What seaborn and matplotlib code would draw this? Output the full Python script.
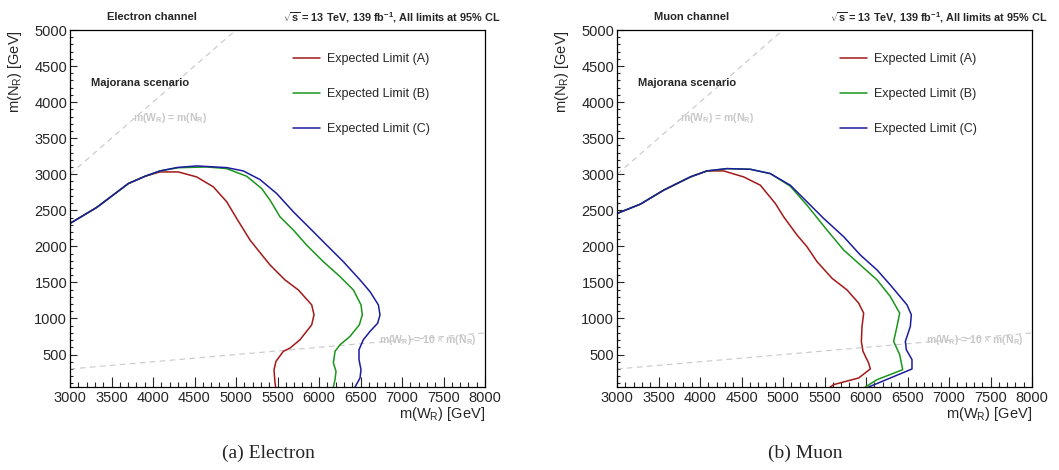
import matplotlib
matplotlib.use("Agg")
import matplotlib.pyplot as plt
import seaborn as sns
import pandas as pd
from matplotlib.ticker import MultipleLocator

# ---------------- data ----------------
channels = ["Electron channel", "Muon channel"]
captions = ["(a) Electron", "(b) Muon"]
limit_labels = ["Expected Limit (A)", "Expected Limit (B)", "Expected Limit (C)"]
limit_colors = ["#a31818", "#1a961a", "#1c1c9e"]

# Electron channel
el_A_x = [3000, 3321, 3703, 3904, 4084, 4305, 4526, 4727, 4888, 5008, 5169, 5249, 5410, 5590, 5751, 5912, 5940, 5912, 5771, 5651, 5570, 5482, 5458, 5470, 5478]
el_A_y = [2318, 2539, 2871, 2972, 3032, 3032, 2963, 2825, 2618, 2387, 2088, 1972, 1742, 1535, 1396, 1189, 1051, 912, 705, 590, 544, 406, 290, 106, 50]
el_B_x = [3000, 3321, 3703, 3904, 4084, 4300, 4647, 4888, 5129, 5309, 5410, 5530, 5691, 5851, 6052, 6253, 6414, 6506, 6522, 6486, 6373, 6253, 6193, 6173, 6205, 6193, 6173]
el_B_y = [2318, 2539, 2871, 2972, 3046, 3090, 3101, 3078, 2972, 2802, 2641, 2410, 2226, 2018, 1788, 1581, 1396, 1189, 1051, 912, 751, 636, 544, 382, 267, 152, 50]
el_C_x = [3000, 3321, 3703, 3904, 4084, 4300, 4526, 4888, 5088, 5289, 5490, 5691, 5892, 6092, 6293, 6494, 6614, 6715, 6735, 6707, 6614, 6534, 6482, 6482, 6506, 6494, 6434]
el_C_y = [2318, 2539, 2871, 2972, 3046, 3095, 3115, 3092, 3046, 2926, 2733, 2479, 2249, 2018, 1788, 1535, 1373, 1189, 1051, 935, 820, 705, 567, 429, 290, 175, 50]

# Muon channel
mu_A_x = [3000, 3281, 3562, 3884, 4084, 4285, 4526, 4727, 4908, 5008, 5169, 5289, 5410, 5590, 5771, 5912, 5972, 5952, 5944, 5964, 6032, 6052, 5912, 5610, 5570]
mu_A_y = [2456, 2585, 2779, 2963, 3046, 3046, 2963, 2848, 2594, 2410, 2157, 1995, 1788, 1558, 1396, 1212, 1074, 889, 682, 544, 382, 300, 175, 83, 50]
mu_B_x = [3000, 3281, 3562, 3884, 4084, 4325, 4606, 4847, 5088, 5289, 5530, 5731, 5932, 6133, 6293, 6406, 6373, 6333, 6406, 6442, 6133, 5992]
mu_B_y = [2456, 2585, 2779, 2963, 3046, 3078, 3069, 3009, 2834, 2571, 2226, 1949, 1742, 1535, 1304, 1074, 889, 682, 498, 290, 152, 50]
mu_C_x = [3000, 3281, 3562, 3884, 4084, 4325, 4606, 4847, 5088, 5289, 5490, 5731, 5932, 6133, 6293, 6494, 6546, 6534, 6474, 6486, 6554, 6554, 6293, 6032]
mu_C_y = [2456, 2585, 2779, 2963, 3046, 3078, 3069, 3009, 2848, 2618, 2387, 2134, 1880, 1673, 1465, 1189, 1051, 889, 682, 567, 429, 300, 175, 50]

curves = [
    [(el_A_x, el_A_y), (el_B_x, el_B_y), (el_C_x, el_C_y)],
    [(mu_A_x, mu_A_y), (mu_B_x, mu_B_y), (mu_C_x, mu_C_y)],
]

# reference lines m(WR)=m(NR) and m(WR)=10 m(NR)
diag_x = [3000, 8000]
diag_y = [3000, 8000]
tenth_x = [3000, 8000]
tenth_y = [300, 800]

header_right = r"$\mathbf{\sqrt{s}}$ = 13 TeV, 139 fb$^{\mathbf{-1}}$, All limits at 95% CL"

# ---------------- style ----------------
sns.set_style("ticks")
plt.rcParams["font.family"] = ["Liberation Sans", "DejaVu Sans"]
plt.rcParams["mathtext.fontset"] = "custom"
plt.rcParams["mathtext.rm"] = "Liberation Sans"
plt.rcParams["mathtext.bf"] = "Liberation Sans:bold"
plt.rcParams["mathtext.it"] = "Liberation Sans:italic"

W, H = 1059, 470
fig = plt.figure(figsize=(W / 100, H / 100), dpi=100)
ax_lefts = [70, 617]
ax_w = 415
ax_top, ax_bot = 30, 387
grey = "#c8c8c8"

for i in range(2):
    ax = fig.add_axes([ax_lefts[i] / W, 1 - ax_bot / H, ax_w / W, (ax_bot - ax_top) / H])
    # dashed reference lines
    sns.lineplot(x=diag_x, y=diag_y, ax=ax, color=grey, lw=0.8, linestyle=(0, (5, 4)))
    sns.lineplot(x=tenth_x, y=tenth_y, ax=ax, color=grey, lw=0.8, linestyle=(0, (5, 4)))
    for j in range(3):
        xs, ys = curves[i][j]
        df = pd.DataFrame({"x": xs, "y": ys})
        sns.lineplot(data=df, x="x", y="y", ax=ax, sort=False, estimator=None,
                     color=limit_colors[j], lw=1.1, label=limit_labels[j])
    ax.set_xlim(3000, 8000)
    ax.set_ylim(50, 5000)
    ax.xaxis.set_major_locator(MultipleLocator(500))
    ax.xaxis.set_minor_locator(MultipleLocator(100))
    ax.yaxis.set_major_locator(MultipleLocator(500))
    ax.yaxis.set_minor_locator(MultipleLocator(100))
    ax.tick_params(axis="x", which="major", direction="in", length=7, width=0.8, labelsize=10.5, pad=3, top=False)
    ax.tick_params(axis="x", which="minor", direction="in", length=3.6, width=0.8, top=False)
    ax.tick_params(axis="y", which="major", direction="in", length=5, width=0.8, labelsize=10.5, pad=2, right=False)
    ax.tick_params(axis="y", which="minor", direction="in", length=2.5, width=0.8, right=False)
    for s in ax.spines.values():
        s.set_linewidth(0.9)
        s.set_color("black")
    ax.set_xlabel("")
    ax.set_ylabel("")
    ax.text(1.0, -0.05, r"m(W$_\mathregular{R}$) [GeV]", transform=ax.transAxes,
            ha="right", va="top", fontsize=10.5)
    ax.text(-0.133, 1.0, r"m(N$_\mathregular{R}$) [GeV]", transform=ax.transAxes,
            ha="center", va="top", rotation=90, fontsize=10.5)
    # headers
    ax.text(0.089, 1.036, channels[i], transform=ax.transAxes, ha="left", va="center",
            fontsize=8, fontweight="bold")
    ax.text(1.037, 1.036, header_right, transform=ax.transAxes, ha="right", va="center",
            fontsize=7.8, fontweight="bold")
    ax.text(3253, 4264, "Majorana scenario", ha="left", va="center", fontsize=8, fontweight="bold")
    ax.text(4205, 3778, r"m(W$_\mathregular{R}$) = m(N$_\mathregular{R}$)", ha="center", va="center",
            fontsize=7.5, fontweight="bold", color=grey)
    ax.text(7313, 695, r"m(W$_\mathregular{R}$) = 10 $\times$ m(N$_\mathregular{R}$)", ha="center", va="center",
            fontsize=7.5, fontweight="bold", color=grey)
    # legend
    h, l = ax.get_legend_handles_labels()
    ax.legend(h, l, loc="upper left", bbox_to_anchor=(0.537, 0.935), frameon=False,
              fontsize=9, handlelength=2.2, handletextpad=0.55, labelspacing=1.85,
              borderpad=0, borderaxespad=0)
    # caption
    fig.text([268, 805][i] / W, 1 - 453 / H, captions[i], ha="center", va="center",
             fontsize=14, family=["Liberation Serif", "DejaVu Serif"])

fig.savefig("out.png", dpi=100)
